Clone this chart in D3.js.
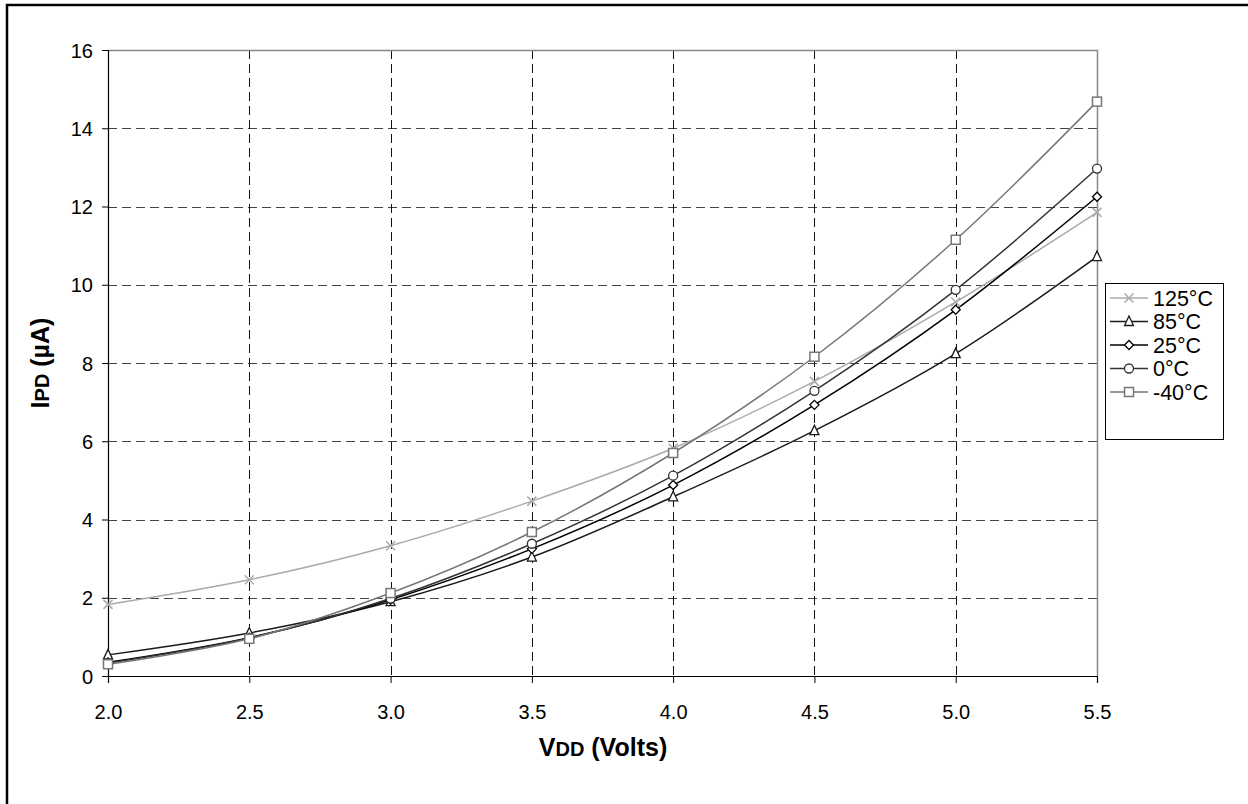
<!DOCTYPE html>
<html><head><meta charset="utf-8">
<script src="https://cdn.jsdelivr.net/npm/d3@7"></script>
<style>body{margin:0;background:#fff}svg{display:block}</style>
</head><body><svg id="c" width="1248" height="804"></svg>
<script>
const voltages = [2.0, 2.5, 3.0, 3.5, 4.0, 4.5, 5.0, 5.5];
const seriesNames = ["125°C", "85°C", "25°C", "0°C", "-40°C"];
const s125 = [1.83, 2.46, 3.33, 4.47, 5.82, 7.53, 9.56, 11.85];
const s85 = [0.54, 1.10, 1.90, 3.04, 4.58, 6.27, 8.24, 10.72];
const s25 = [0.35, 0.98, 1.95, 3.25, 4.88, 6.93, 9.36, 12.25];
const s0 = [0.33, 0.97, 1.98, 3.38, 5.12, 7.29, 9.87, 12.97];
const sM40 = [0.30, 0.95, 2.12, 3.68, 5.70, 8.16, 11.15, 14.68];
const xTicks = [2.0, 2.5, 3.0, 3.5, 4.0, 4.5, 5.0, 5.5];
const yTicks = [0, 2, 4, 6, 8, 10, 12, 14, 16];

const seriesValues = [s125, s85, s25, s0, sM40];
const colors = ["#aaaaaa", "#1a1a1a", "#000000", "#333333", "#777777"];
const markers = ["x", "tri", "dia", "circ", "sq"];

const svg = d3.select("#c");
const font = "Liberation Sans, Arial, sans-serif";
const L = 108, R = 1097, T = 50, B = 676;
const x = d3.scaleLinear().domain([2.0, 5.5]).range([L, R]);
const y = d3.scaleLinear().domain([0, 16]).range([B, T]);

// outer frame (right/bottom cut off)
svg.append("path").attr("d", `M7,812 L7,5 L1256,5`).attr("fill","none").attr("stroke","#000").attr("stroke-width",2.5);

// gridlines
const g = svg.append("g");
g.selectAll(".hg").data(yTicks.filter(d=>d>0 && d<16)).join("line")
  .attr("x1", L).attr("x2", R).attr("y1", d=>Math.round(y(d))+0.5).attr("y2", d=>Math.round(y(d))+0.5)
  .attr("stroke","#444").attr("stroke-width",1).attr("stroke-dasharray","9,5");
g.selectAll(".vg").data(xTicks.filter(d=>d>2 && d<5.5)).join("line")
  .attr("y1", T).attr("y2", B).attr("x1", d=>Math.round(x(d))+0.5).attr("x2", d=>Math.round(x(d))+0.5)
  .attr("stroke","#111").attr("stroke-width",1).attr("stroke-dasharray","9,5");

// plot area border top/right gray
svg.append("path").attr("d", `M${L},${T+0.5} L${R+0.5},${T+0.5} L${R+0.5},${B}`)
  .attr("fill","none").attr("stroke","#888").attr("stroke-width",1.5);

// axes
const yAxis = d3.axisLeft(y).tickValues(yTicks).tickSize(6).tickPadding(9).tickFormat(d3.format("d"));
const xAxis = d3.axisBottom(x).tickValues(xTicks).tickSize(7).tickPadding(22).tickFormat(d3.format(".1f"));
const ya = svg.append("g").attr("transform", `translate(${L},0)`).call(yAxis);
const xa = svg.append("g").attr("transform", `translate(0,${B})`).call(xAxis);
[ya, xa].forEach(a => {
  a.select(".domain").attr("stroke","#000").attr("stroke-width",1.2);
  a.selectAll(".tick line").attr("stroke","#000");
  a.selectAll("text").attr("font-family", font).attr("font-size", 20).attr("fill","#000");
});
ya.selectAll(".tick text").attr("dy","0.36em");

// series lines
const line = d3.line().x((d,i)=>x(voltages[i])).y(d=>y(d)).curve(d3.curveCatmullRom.alpha(0.5));
const order = [0,1,2,3,4];
order.forEach(k => {
  svg.append("path").datum(seriesValues[k]).attr("d", line).attr("fill","none")
    .attr("stroke", colors[k]).attr("stroke-width", 1.5);
});

function drawMarker(sel, type, cx, cy, col) {
  const s = 4.5;
  if (type === "x") {
    sel.append("path").attr("d", `M${cx-s},${cy-s}L${cx+s},${cy+s}M${cx-s},${cy+s}L${cx+s},${cy-s}`)
      .attr("stroke", col).attr("stroke-width", 1.5).attr("fill","none");
  } else if (type === "tri") {
    sel.append("path").attr("d", `M${cx},${cy-s-1}L${cx+s},${cy+s-0.5}L${cx-s},${cy+s-0.5}Z`)
      .attr("stroke", col).attr("stroke-width", 1.3).attr("fill","#fff");
  } else if (type === "dia") {
    sel.append("path").attr("d", `M${cx},${cy-s}L${cx+s},${cy}L${cx},${cy+s}L${cx-s},${cy}Z`)
      .attr("stroke", col).attr("stroke-width", 1.3).attr("fill","#fff");
  } else if (type === "circ") {
    sel.append("circle").attr("cx", cx).attr("cy", cy).attr("r", s)
      .attr("stroke", col).attr("stroke-width", 1.3).attr("fill","#fff");
  } else if (type === "sq") {
    sel.append("rect").attr("x", cx-s).attr("y", cy-s).attr("width", 2*s).attr("height", 2*s)
      .attr("stroke", col).attr("stroke-width", 1.5).attr("fill","#fff");
  }
}
const mg = svg.append("g");
order.forEach(k => {
  seriesValues[k].forEach((v,i) => drawMarker(mg, markers[k], x(voltages[i]), y(v), colors[k]));
});

// legend
const lg = svg.append("g");
lg.append("rect").attr("x", 1105.5).attr("y", 283.5).attr("width", 118).attr("height", 156)
  .attr("fill","#fff").attr("stroke","#000").attr("stroke-width",1);
seriesNames.forEach((n,k) => {
  const ly = 298 + k*23.5;
  lg.append("line").attr("x1",1110).attr("x2",1148).attr("y1",ly).attr("y2",ly)
    .attr("stroke", colors[k]).attr("stroke-width",1.5);
  drawMarker(lg, markers[k], 1129, ly, colors[k]);
  lg.append("text").attr("x",1153).attr("y",ly).attr("dy","0.36em")
    .attr("font-family",font).attr("font-size",21.5).attr("fill","#000").text(n);
});

// axis titles
const xt = svg.append("text").attr("x", 603).attr("y", 756).attr("text-anchor","middle")
  .attr("font-family",font).attr("font-weight","bold").attr("font-size",25).attr("fill","#000");
xt.append("tspan").text("V");
xt.append("tspan").attr("font-size",20).text("DD");
xt.append("tspan").text(" (Volts)");

const yt = svg.append("text").attr("transform","translate(49,363) rotate(-90)").attr("text-anchor","middle")
  .attr("font-family",font).attr("font-weight","bold").attr("font-size",25).attr("fill","#000");
yt.append("tspan").text("I");
yt.append("tspan").attr("font-size",20).text("PD");
yt.append("tspan").text(" (µA)");
</script></body></html>
